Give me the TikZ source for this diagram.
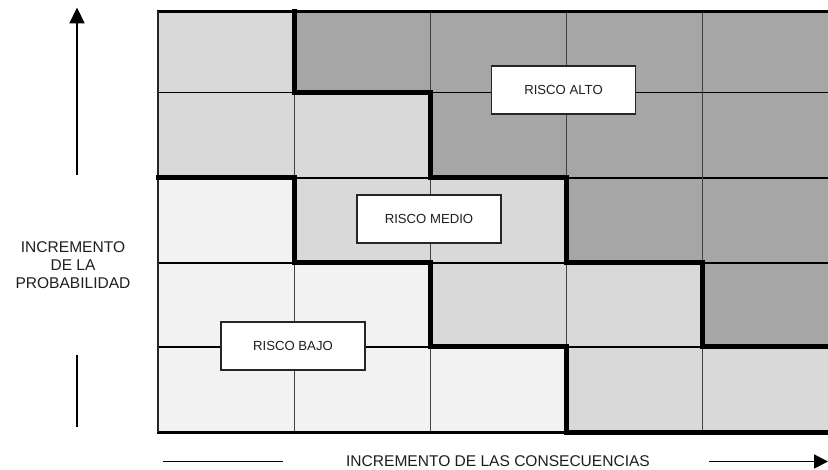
\documentclass[tikz,border=0pt]{standalone}
\usepackage{fontspec}
\setmainfont{Liberation Sans}
\usetikzlibrary{arrows.meta}
\definecolor{lowc}{HTML}{F2F2F2}
\definecolor{midc}{HTML}{D9D9D9}
\definecolor{highc}{HTML}{A6A6A6}
\definecolor{inkc}{HTML}{1E1E1E}
\tikzset{
  riskbox/.style={draw=black!85, line width=1.3bp, fill=white, minimum width=144bp, minimum height=48bp, inner sep=0pt, font=\fontsize{13.2}{15}\selectfont, text=inkc},
  axislabel/.style={font=\fontsize{15.6}{18}\selectfont, text=inkc, align=center, inner sep=0pt},
  hline/.style={black, line width=1.6bp},
  vline/.style={black!75, line width=1bp},
  zoneline/.style={black, line width=5bp, line join=miter, line cap=rect},
  axisline/.style={black, line width=2.2bp},
}
\begin{document}
\begin{tikzpicture}[x=1bp,y=-1bp]
\useasboundingbox (0,0) rectangle (828,470);
\fill[white] (0,0) rectangle (828,470);
\begin{scope}
\clip (0,0) rectangle (828,470);
% cells
\foreach \row [count=\r from 0] in {{midc,highc,highc,highc,highc},{midc,midc,highc,highc,highc},{lowc,midc,midc,highc,highc},{lowc,lowc,midc,midc,highc},{lowc,lowc,lowc,midc,midc}} {
  \foreach \c [count=\k from 0] in \row {
    \pgfmathsetmacro\xl{158+136*\k}
    \pgfmathsetmacro\yt{{11.5,92.5,178,263,347,432}[\r]}
    \pgfmathsetmacro\yb{{11.5,92.5,178,263,347,432}[\r+1]}
    \fill[\c] (\xl,\yt) rectangle (\xl+136,\yb);
  }
}
% internal grid lines
\foreach \y in {92.5,178,263,347} \draw[hline] (158,\y) -- (838,\y);
\foreach \x in {294,430,566,702} \draw[vline] (\x,11.5) -- (\x,432);
% outer border
\draw[black, line width=3bp] (157,11.5) -- (838,11.5);
\draw[black, line width=3bp] (157,432) -- (838,432);
\draw[black!85, line width=2bp] (158,11.5) -- (158,432);
% zone boundaries
\draw[zoneline] (294,11.5) -- (294,92.5) -- (430,92.5) -- (430,178) -- (566,178) -- (566,263) -- (702,263) -- (702,347) -- (840,347);
\draw[zoneline] (158,178) -- (294,178) -- (294,263) -- (430,263) -- (430,347) -- (566,347) -- (566,432) -- (840,432);
\end{scope}
% labels
\node[riskbox] (alto) at (563.5,90) {RISCO ALTO};
\node[riskbox] (medio) at (429,219) {RISCO MEDIO};
\node[riskbox] (bajo) at (293,346) {RISCO BAJO};
\node[axislabel] (prob) at (73,265) {INCREMENTO\\DE LA\\PROBABILIDAD};
\node[axislabel] (cons) at (498,461) {INCREMENTO DE LAS CONSECUENCIAS};
% axis arrows
\coordinate (upA) at (77,175);
\coordinate (upB) at (77,7.5);
\coordinate (loA) at (77,355);
\coordinate (loB) at (77,427);
\coordinate (leA) at (163,461.5);
\coordinate (leB) at (283,461.5);
\coordinate (riA) at (709,461.5);
\coordinate (riB) at (828,461.5);
\draw[axisline, -{Triangle[length=16bp,width=15bp]}] (upA) -- (upB);
\draw[axisline] (loA) -- (loB);
\draw[axisline, line width=1.8bp] (leA) -- (leB);
\draw[axisline, line width=1.8bp, -{Triangle[length=14bp,width=14bp]}] (riA) -- (riB);
\end{tikzpicture}
\end{document}
